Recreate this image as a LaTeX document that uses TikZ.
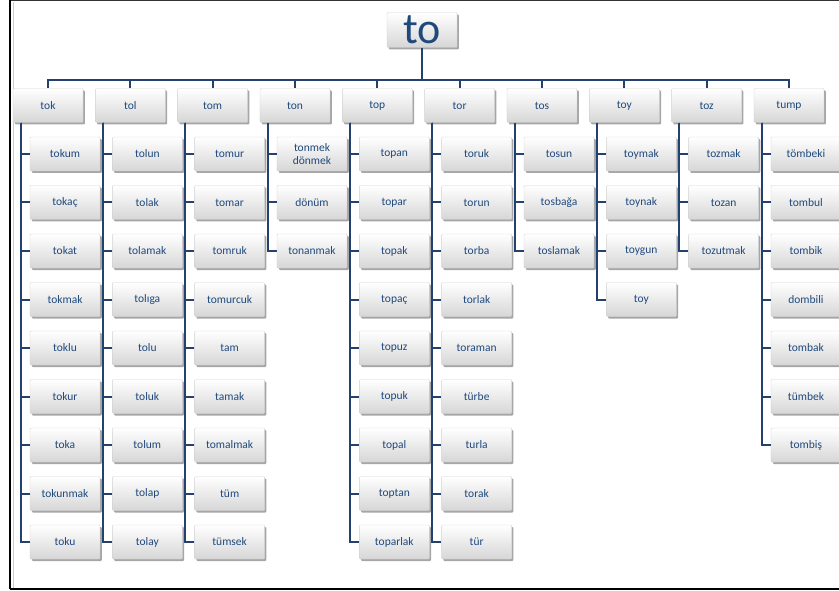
\documentclass[tikz,border=0pt]{standalone}
\usepackage{fontspec}
\setmainfont{Carlito}
\usetikzlibrary{shadows}
\definecolor{linkblue}{HTML}{24406E}
\definecolor{textblue}{HTML}{1F497D}
\tikzset{
  wordbox/.style={draw=gray!35, line width=0.4pt, top color=white, bottom color=gray!32,
    rounded corners=1pt, minimum width=70pt, minimum height=34pt, inner sep=1pt,
    text=textblue, font=\fontsize{11.5}{12.5}\selectfont, align=center,
    drop shadow={shadow xshift=1.8pt, shadow yshift=-2pt, opacity=0.35, fill=black}},
  link/.style={draw=linkblue, line width=2pt}
}
\begin{document}
\begin{tikzpicture}[x=1pt,y=-1pt]
\useasboundingbox (0,0) rectangle (839,591);
% frame
\draw[black!80, line width=1.5pt] (10,0.75) -- (839,0.75);
\draw[black, line width=2.5pt] (10,0) -- (10,589);
\draw[black, line width=2pt] (10,589) -- (839,589);
\draw[gray!40, line width=0.6pt] (13,2) -- (13,588);

% root
\node[wordbox, minimum height=35pt, font=\fontsize{44}{44}\selectfont] (root) at (422,30) {to};
\coordinate (bus) at (422,80);
\draw[link] (root.south) -- (bus);

% syllable groups and their words
\foreach \p/\words [count=\i from 0] in {
    tok/{tokum,tokaç,tokat,tokmak,toklu,tokur,toka,tokunmak,toku},
    tol/{tolun,tolak,tolamak,tolıga,tolu,toluk,tolum,tolap,tolay},
    tom/{tomur,tomar,tomruk,tomurcuk,tam,tamak,tomalmak,tüm,tümsek},
    ton/{tonmek\\dönmek,dönüm,tonanmak},
    top/{topan,topar,topak,topaç,topuz,topuk,topal,toptan,toparlak},
    tor/{toruk,torun,torba,torlak,toraman,türbe,turla,torak,tür},
    tos/{tosun,tosbağa,toslamak},
    toy/{toymak,toynak,toygun,toy},
    toz/{tozmak,tozan,tozutmak},
    tump/{tömbeki,tombul,tombik,dombili,tombak,tümbek,tombiş}}{
  \node[wordbox] (\p) at ({48+82.33*\i},105.5) {\p};
  \draw[link] (bus) -| (\p.north);
  \foreach \w [count=\j] in \words {
    \node[wordbox] (\p-\j) at ({65+82.33*\i},{154+48.5*(\j-1)}) {\w};
    \draw[link] ([xshift=8pt]\p.south west) |- (\p-\j.west);
  }
}
\end{tikzpicture}
\end{document}
